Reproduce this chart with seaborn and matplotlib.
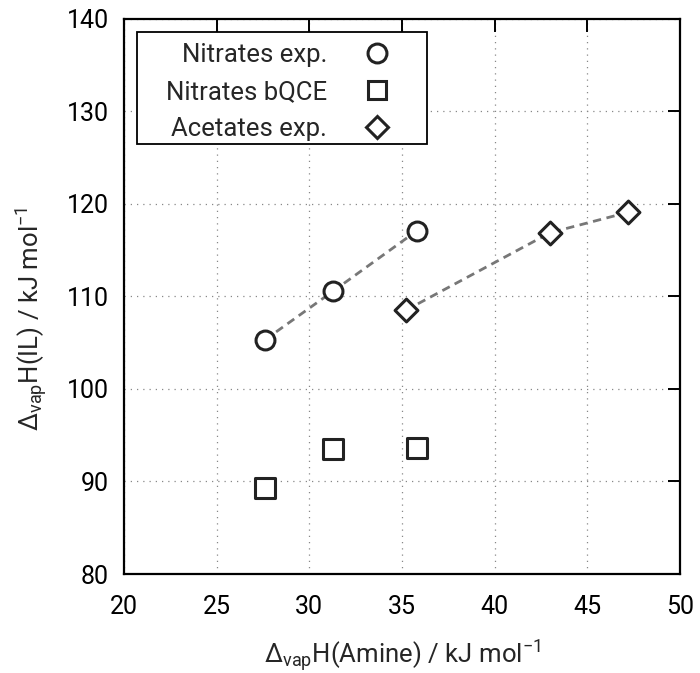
import matplotlib
matplotlib.use("Agg")
import matplotlib.pyplot as plt
import seaborn as sns
import pandas as pd
from matplotlib.lines import Line2D
from matplotlib.patches import Rectangle

# Vaporization enthalpies (kJ/mol)
nitrates_amine = [27.6, 31.3, 35.8]
nitrates_exp = [105.3, 110.6, 117.1]
nitrates_bqce = [89.3, 93.5, 93.6]
acetates_amine = [35.2, 43.0, 47.2]
acetates_exp = [108.5, 116.9, 119.1]

series_names = ["Nitrates exp.", "Nitrates bQCE", "Acetates exp."]

df = pd.DataFrame({
    "amine": nitrates_amine + nitrates_amine + acetates_amine,
    "il": nitrates_exp + nitrates_bqce + acetates_exp,
    "series": [series_names[0]] * 3 + [series_names[1]] * 3 + [series_names[2]] * 3,
})

sns.set_style("white")
plt.rcParams["font.family"] = ["Roboto", "DejaVu Sans"]
plt.rcParams["mathtext.fontset"] = "custom"
plt.rcParams["mathtext.rm"] = "Roboto"
plt.rcParams["mathtext.it"] = "Roboto"

TICK_FS = 18
LABEL_FS = 18.5
EDGE = "#222222"

fig = plt.figure(figsize=(7.0, 6.73), dpi=100)
ax = fig.add_axes([0.1771, 0.1471, 0.7943, 0.8247])

# dashed trend lines for the experimental series
for name in [series_names[0], series_names[2]]:
    sub = df[df["series"] == name]
    sns.lineplot(data=sub, x="amine", y="il", ax=ax, color="#777777",
                 linestyle=(0, (3.0, 2.0)), linewidth=2.0, legend=False,
                 sort=True, zorder=2)

markers = {series_names[0]: "o", series_names[1]: "s", series_names[2]: "D"}
sizes = {series_names[0]: 185, series_names[1]: 200, series_names[2]: 135}
for name in series_names:
    sub = df[df["series"] == name]
    sns.scatterplot(data=sub, x="amine", y="il", ax=ax, marker=markers[name],
                    s=sizes[name], facecolor="white", edgecolor=EDGE,
                    linewidth=2.2, legend=False, zorder=3)

ax.set_xlim(20, 50)
ax.set_ylim(80, 140)
ax.set_xticks(range(20, 51, 5))
ax.set_yticks(range(80, 141, 10))
ax.grid(True, linestyle=(0, (1, 4)), color="#888888", linewidth=0.9)
ax.tick_params(direction="in", length=9, width=1.4, labelsize=TICK_FS,
               top=True, right=True, colors="black")
ax.tick_params(axis="x", pad=15)
ax.tick_params(axis="y", pad=11)
for sp in ax.spines.values():
    sp.set_linewidth(1.6)
    sp.set_color("black")

ax.set_xlabel(r"$\Delta_{\mathrm{vap}}$H(Amine) / kJ mol$^{\mathrm{-1}}$",
              fontsize=LABEL_FS)
ax.xaxis.set_label_coords(0.5, -0.113)
ax.set_ylabel(r"$\Delta_{\mathrm{vap}}$H(IL) / kJ mol$^{\mathrm{-1}}$",
              fontsize=LABEL_FS)
ax.yaxis.set_label_coords(-0.135, 0.46)

handles = [
    Line2D([], [], linestyle="none", marker="o", markersize=13.6, markerfacecolor="white",
           markeredgecolor=EDGE, markeredgewidth=2.2),
    Line2D([], [], linestyle="none", marker="s", markersize=13.5, markerfacecolor="white",
           markeredgecolor=EDGE, markeredgewidth=2.2),
    Line2D([], [], linestyle="none", marker="D", markersize=11.5, markerfacecolor="white",
           markeredgecolor=EDGE, markeredgewidth=2.2),
]
leg = ax.legend(handles, series_names, loc="upper left", bbox_to_anchor=(0.0755, 0.956),
                markerfirst=False, fontsize=LABEL_FS, frameon=False,
                borderaxespad=0, borderpad=0, handletextpad=1.45,
                labelspacing=0.5, handlelength=1.0)
leg.set_zorder(6)
for t in leg.get_texts():
    t.set_ha("right")

# boxed frame around the key, padded like the plotting program's default
fig.canvas.draw()
bb = leg.get_window_extent().transformed(ax.transAxes.inverted())
pad_l, pad_r, pad_t, pad_b = 29 / 556, 37 / 556, 11 / 555, 3 / 555
frame = Rectangle((bb.x0 - pad_l, bb.y0 - pad_b), bb.width + pad_l + pad_r,
                  bb.height + pad_t + pad_b, transform=ax.transAxes,
                  facecolor="white", edgecolor="black", linewidth=1.3, zorder=5)
ax.add_patch(frame)

fig.savefig("out.png", dpi=100)
